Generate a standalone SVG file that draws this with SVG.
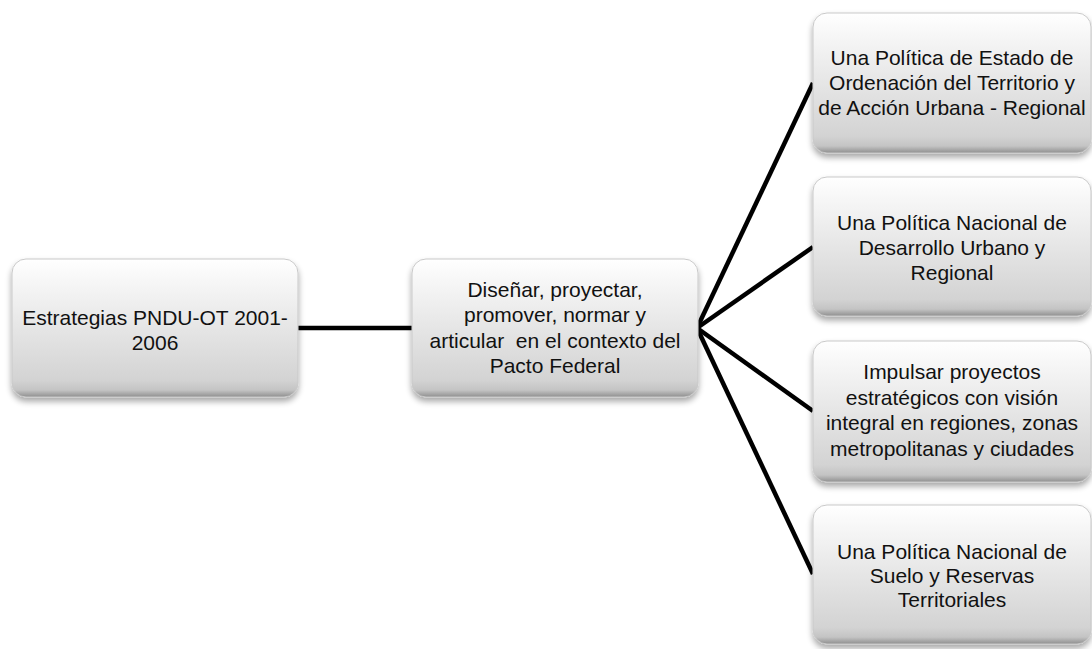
<svg xmlns="http://www.w3.org/2000/svg" width="1092" height="649" viewBox="0 0 1092 649">
<style>
.box{fill:url(#g);stroke:#c9c9c9;stroke-width:1;filter:url(#sh)}
.t{font-family:"Liberation Sans",Arial,sans-serif;font-size:21px;fill:#111;text-anchor:middle;white-space:pre}
.c{stroke:#000;stroke-width:4.5;fill:none;stroke-linecap:butt}
</style>
<defs>
<linearGradient id="g" x1="0" y1="0" x2="0" y2="1">
<stop offset="0" stop-color="#ffffff"/>
<stop offset="0.15" stop-color="#f7f7f7"/>
<stop offset="0.88" stop-color="#d3d3d3"/>
<stop offset="0.95" stop-color="#c4c4c4"/>
<stop offset="1" stop-color="#8f8f8f"/>
</linearGradient>
<filter id="sh" x="-10%" y="-10%" width="120%" height="130%">
<feGaussianBlur in="SourceAlpha" stdDeviation="3"/>
<feOffset dx="0" dy="4" result="b"/>
<feComponentTransfer><feFuncA type="linear" slope="0.35"/></feComponentTransfer>
<feMerge><feMergeNode/><feMergeNode in="SourceGraphic"/></feMerge>
</filter>
</defs>
<rect width="1092" height="649" fill="#fff"/>
<g id="connectors">
<line class="c" x1="298" y1="328" x2="412" y2="328"/>
<line class="c" x1="697" y1="328" x2="813" y2="83"/>
<line class="c" x1="697" y1="328" x2="813" y2="247"/>
<line class="c" x1="697" y1="328" x2="813" y2="411"/>
<line class="c" x1="697" y1="328" x2="813" y2="574"/>
</g>
<g id="n0">
<rect class="box" x="12" y="259" width="286" height="138" rx="14"/>
<text class="t" x="155" y="325">Estrategias PNDU-OT 2001-</text>
<text class="t" x="155" y="350">2006</text>
</g>
<g id="n1">
<rect class="box" x="412" y="259" width="286" height="138" rx="14"/>
<text class="t" x="555" y="296.5">Diseñar, proyectar,</text>
<text class="t" x="555" y="322">promover, normar y</text>
<text class="t" x="555" y="347.5">articular  en el contexto del</text>
<text class="t" x="555" y="373">Pacto Federal</text>
</g>
<g id="n2">
<rect class="box" x="813" y="13" width="278" height="140" rx="14"/>
<text class="t" x="952" y="65">Una Política de Estado de</text>
<text class="t" x="952" y="90">Ordenación del Territorio y</text>
<text class="t" x="952" y="115">de Acción Urbana - Regional</text>
</g>
<g id="n3">
<rect class="box" x="813" y="177" width="278" height="139" rx="14"/>
<text class="t" x="952" y="230">Una Política Nacional de</text>
<text class="t" x="952" y="255">Desarrollo Urbano y</text>
<text class="t" x="952" y="280">Regional</text>
</g>
<g id="n4">
<rect class="box" x="813" y="341" width="278" height="141" rx="14"/>
<text class="t" x="952" y="379">Impulsar proyectos</text>
<text class="t" x="952" y="404.5">estratégicos con visión</text>
<text class="t" x="952" y="430">integral en regiones, zonas</text>
<text class="t" x="952" y="455.5">metropolitanas y ciudades</text>
</g>
<g id="n5">
<rect class="box" x="813" y="505" width="278" height="139" rx="14"/>
<text class="t" x="952" y="559">Una Política Nacional de</text>
<text class="t" x="952" y="583">Suelo y Reservas</text>
<text class="t" x="952" y="607">Territoriales</text>
</g>
</svg>
